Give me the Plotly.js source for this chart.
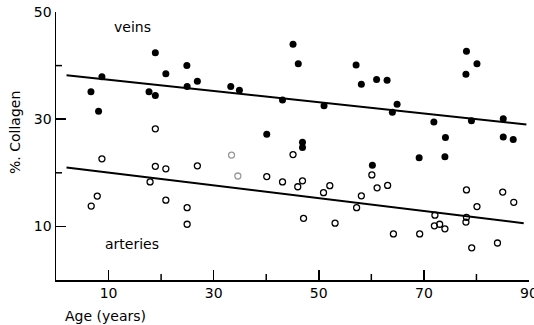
<!DOCTYPE html>
<html>
<head>
<meta charset="utf-8">
<script src="https://cdn.plot.ly/plotly-3.0.1.min.js"></script>
<style>html,body{margin:0;padding:0;background:#fff;}#chart{width:534px;height:325px;}</style>
</head>
<body>
<div id="chart"></div>
<script>
const veinsAge = [6.65,8.1,8.74,17.7,18.9,18.9,20.9,24.9,24.95,26.9,33.25,34.9,40.1,43.1,45.1,46.1,46.9,46.9,51.0,57.1,58.1,60.2,61.0,63.0,64.0,64.9,69.1,71.9,74.0,74.1,78.0,78.1,79.05,80.1,85.1,85.1,87.0];
const veinsCollagen = [35.1,31.5,37.9,35.1,34.4,42.4,38.5,40.0,36.1,37.1,36.1,35.4,27.2,33.6,44.0,40.35,25.7,24.7,32.5,40.1,36.5,21.4,37.4,37.25,31.3,32.8,22.8,29.5,23.0,26.6,38.4,42.7,29.7,40.35,30.1,26.7,26.2];
const arteriesAge = [6.7,7.85,8.74,17.9,18.9,18.9,20.9,20.9,24.95,24.95,26.9,33.4,34.6,40.1,43.1,45.1,46.0,46.9,47.1,50.9,52.1,53.1,57.2,58.1,60.1,61.1,63.1,64.2,69.2,72.0,72.1,73.0,74.0,78.0,78.1,78.1,79.1,80.1,84.0,85.0,87.1];
const arteriesCollagen = [13.8,15.65,22.6,18.3,28.2,21.2,20.75,14.9,13.5,10.4,21.3,23.3,19.4,19.3,18.3,23.4,17.4,18.5,11.5,16.3,17.6,10.6,13.5,15.7,19.6,17.2,17.65,8.6,8.6,10.1,12.1,10.4,9.55,10.8,11.7,16.8,6.0,13.7,6.9,16.4,14.5];
const veinsFitAge = [2, 89.5];
const veinsFitCollagen = [38.2, 29.0];
const arteriesFitAge = [2, 89];
const arteriesFitCollagen = [21.0, 10.6];
const majorTicks = [10, 30, 50, 70, 90];
const minorTicks = [20, 40, 60, 80];
const yMajorTicks = [10, 30, 50];
const yMinorTicks = [20, 40];

const artLineColors = arteriesAge.map((a, i) => (i === 11 || i === 12) ? '#999' : '#000');

const font = {family: 'DejaVu Sans, sans-serif', size: 14, color: '#000'};

const W = 534, H = 325, M = {l: 56, r: 5, t: 12, b: 45};
const X_RANGE = [0, 90], Y_RANGE = [0, 50];
const plotW = W - M.l - M.r, plotH = H - M.t - M.b;
const pxToX = px => px * (X_RANGE[1] - X_RANGE[0]) / plotW;
const pxToY = px => px * (Y_RANGE[1] - Y_RANGE[0]) / plotH;

// short inside minor ticks, built from the minor tick arrays
function xTickSegs(vals, lenPx) {
  const xs = [], ys = [];
  vals.forEach(v => { xs.push(v, v, null); ys.push(Y_RANGE[0], Y_RANGE[0] + pxToY(lenPx), null); });
  return {xs, ys};
}
function yTickSegs(vals, lenPx) {
  const xs = [], ys = [];
  vals.forEach(v => { ys.push(v, v, null); xs.push(X_RANGE[0], X_RANGE[0] + pxToX(lenPx), null); });
  return {xs, ys};
}
const tx = xTickSegs(minorTicks, 6), ty = yTickSegs(yMinorTicks, 6);
const tickX = [].concat(tx.xs, ty.xs);
const tickY = [].concat(tx.ys, ty.ys);

const traces = [
  {x: tickX, y: tickY, mode: 'lines', line: {color: '#000', width: 1.5}, connectgaps: false, hoverinfo: 'skip', cliponaxis: false},
  {x: veinsFitAge, y: veinsFitCollagen, mode: 'lines', line: {color: '#000', width: 2}, hoverinfo: 'skip'},
  {x: arteriesFitAge, y: arteriesFitCollagen, mode: 'lines', line: {color: '#000', width: 2}, hoverinfo: 'skip'},
  {x: veinsAge, y: veinsCollagen, mode: 'markers', marker: {symbol: 'circle', size: 7, color: '#000'}},
  {x: arteriesAge, y: arteriesCollagen, mode: 'markers', marker: {symbol: 'circle-open', size: 6, color: artLineColors, line: {width: 1.3, color: artLineColors}}}
];

const axBase = {showgrid: false, zeroline: false, showline: true, linecolor: '#000', linewidth: 1.5, ticks: 'inside', ticklen: 10, tickwidth: 1.5, tickcolor: '#000', tickfont: font};

const layout = {
  width: W, height: H,
  margin: M,
  paper_bgcolor: '#fff', plot_bgcolor: '#fff',
  showlegend: false,
  font: font,
  xaxis: Object.assign({}, axBase, {
    range: X_RANGE, tickmode: 'array', tickvals: majorTicks, ticktext: majorTicks.map(String),
    ticklabeloverflow: 'allow'
  }),
  yaxis: Object.assign({}, axBase, {
    range: Y_RANGE, tickmode: 'array', tickvals: yMajorTicks, ticktext: yMajorTicks.map(String)
  }),
  annotations: [
    {text: 'veins', x: 14.5, y: 47.2, xref: 'x', yref: 'y', showarrow: false, font: font},
    {text: 'arteries', x: 14.5, y: 6.7, xref: 'x', yref: 'y', showarrow: false, font: font},
    {text: 'Age (years)', xref: 'paper', yref: 'paper', x: 0.015, y: -0.134, xanchor: 'left', yanchor: 'middle', showarrow: false, font: font},
    {text: '%. Collagen', xref: 'paper', yref: 'paper', x: -0.088, y: 0.55, xanchor: 'center', yanchor: 'middle', textangle: -90, showarrow: false, font: font}
  ]
};

Plotly.newPlot('chart', traces, layout, {displayModeBar: false, staticPlot: true});
</script>
</body>
</html>
